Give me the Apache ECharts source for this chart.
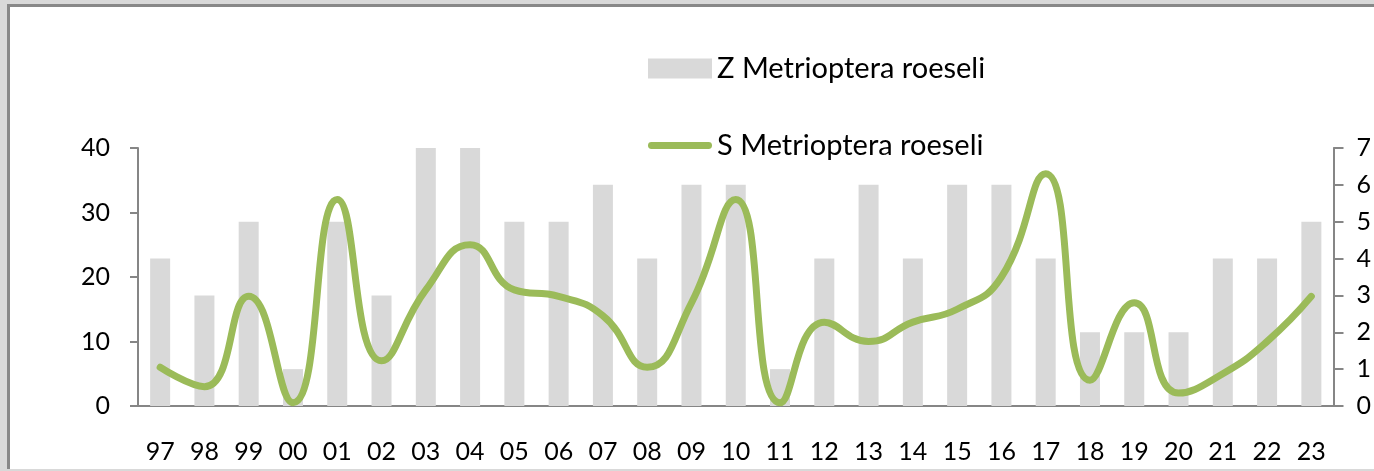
<!DOCTYPE html>
<html>
<head>
<meta charset="utf-8">
<script src="https://cdn.jsdelivr.net/npm/echarts@6/dist/echarts.min.js"></script>
<style>
    html, body {
        margin: 0;
        padding: 0;
        background: #d9d9d9;
        width: 1374px;
        height: 471px;
        overflow: hidden;
    }
    .frame {
        position: absolute;
        left: 7px;
        top: 4px;
        width: 1380px;
        height: 462px;
        background: #fff;
        border-left: 3px solid #888;
        border-top: 3px solid #888;
    }
    .charts {
        position: absolute;
        left: 0;
        top: 0;
        width: 1374px;
        height: 471px;
    }
</style>
</head>
<body>
<div class="frame"></div>
<div class="charts" id="chart"></div>
<script>
    // years on the x axis
    const years = ['97', '98', '99', '00', '01', '02', '03', '04', '05', '06', '07', '08', '09',
        '10', '11', '12', '13', '14', '15', '16', '17', '18', '19', '20', '21', '22', '23']
    // Z - bars, right axis
    const zValues = [4, 3, 5, 1, 5, 3, 7, 7, 5, 5, 6, 4, 6, 6, 1, 4, 6, 4, 6, 6, 4, 2, 2, 2, 4, 4, 5]
    // S - line, left axis
    const sValues = [6, 3, 17, 0.5, 32, 7, 18, 25, 18, 17, 14, 6, 16, 32, 0.5, 13, 10, 13, 15, 20, 36, 4, 16, 2, 5, 10, 17]
    const zName = 'Z Metrioptera roeseli'
    const sName = 'S Metrioptera roeseli'

    const font = 'Lato, "Open Sans", sans-serif'
    const axisColor = '#868686'
    const green = '#9bbb59'

    const chart = echarts.init(document.getElementById('chart'))
    chart.setOption({
        animation: false,
        textStyle: {
            fontFamily: font,
            color: '#000'
        },
        legend: {
            orient: 'vertical',
            left: 648,
            top: 54,
            padding: 0,
            itemWidth: 64,
            itemHeight: 20,
            itemGap: 48,
            textStyle: {
                fontSize: 29,
                color: '#000',
                fontFamily: font
            },
            data: [
                { name: zName, icon: 'rect' },
                // thin rounded bar so the legend shows only the line, no marker
                { name: sName, icon: 'path://M3,0 L61,0 A3,3 0 0 1 61,7 L3,7 A3,3 0 0 1 3,0 Z' }
            ]
        },
        grid: {
            left: 138,
            right: 40,
            top: 148,
            bottom: 65
        },
        xAxis: {
            type: 'category',
            data: years,
            axisLine: {
                lineStyle: { color: axisColor, width: 2 }
            },
            axisTick: {
                alignWithLabel: false,
                length: 10,
                lineStyle: { color: axisColor, width: 2 }
            },
            axisLabel: {
                margin: 33,
                fontSize: 25,
                color: '#000',
                interval: 0
            }
        },
        yAxis: [{
            type: 'value',
            min: 0,
            max: 40,
            interval: 10,
            splitLine: { show: false },
            axisLine: {
                show: true,
                lineStyle: { color: axisColor, width: 2 }
            },
            axisTick: {
                show: true,
                length: 8,
                lineStyle: { color: axisColor, width: 2 }
            },
            axisLabel: {
                margin: 28,
                fontSize: 25,
                color: '#000'
            }
        }, {
            type: 'value',
            min: 0,
            max: 7,
            interval: 1,
            position: 'right',
            splitLine: { show: false },
            axisLine: {
                show: true,
                lineStyle: { color: axisColor, width: 2 }
            },
            axisTick: {
                show: true,
                length: 10,
                lineStyle: { color: axisColor, width: 2 }
            },
            axisLabel: {
                margin: 23,
                fontSize: 25,
                color: '#000'
            }
        }],
        series: [
            {
                name: zName,
                type: 'bar',
                yAxisIndex: 1,
                data: zValues,
                barWidth: 20,
                itemStyle: { color: '#d9d9d9' }
            }, {
                name: sName,
                type: 'line',
                yAxisIndex: 0,
                data: sValues,
                smooth: 0.5,
                symbol: 'none',
                color: green,
                lineStyle: {
                    color: green,
                    width: 7,
                    cap: 'round'
                }
            }
        ]
    })
</script>
</body>
</html>
